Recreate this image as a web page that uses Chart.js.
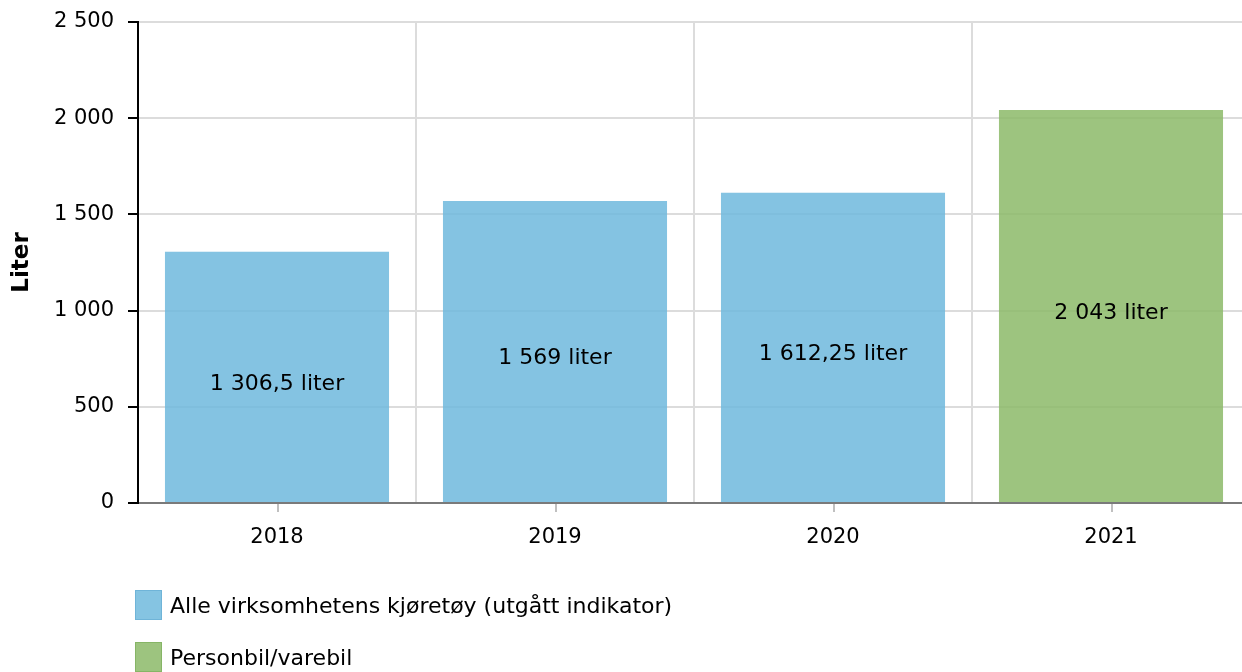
<!DOCTYPE html>
<html><head><meta charset="utf-8">
<script src="https://cdn.jsdelivr.net/npm/chart.js@4"></script>
<style>
html,body{margin:0;padding:0;background:#fff;overflow:hidden;width:1242px;height:672px;}
#wrap{position:absolute;left:0;top:0;width:1252px;height:672px;}
#legend{position:absolute;left:135px;top:590px;font-family:"DejaVu Sans";font-size:22px;color:#000}
.item{display:flex;align-items:center;height:30px;margin-bottom:22px;white-space:nowrap}
.box{width:25px;height:28px;border:1px solid;margin-right:8px;box-sizing:content-box}
</style></head><body>
<div id="wrap"><canvas id="c"></canvas></div>
<div id="legend"></div>
<script>
const categories = ['2018', '2019', '2020', '2021'];
const seriesNames = ['Alle virksomhetens kjøretøy (utgått indikator)', 'Personbil/varebil'];
const allVehicles = [1306.5, 1569, 1612.25, null];
const carsVans = [null, null, null, 2043];
const yTicks = [0, 500, 1000, 1500, 2000, 2500];
const unit = 'liter';
const yTitle = 'Liter';

function fmt(v) {
  const parts = String(v).split('.');
  const intPart = parts[0].replace(/\B(?=(\d{3})+(?!\d))/g, ' ');
  return parts.length > 1 ? intPart + ',' + parts[1] : intPart;
}

const FONT = 'DejaVu Sans';
Chart.defaults.font.family = FONT;
Chart.defaults.color = '#000';

const colors = [
  { fill: 'rgba(111,184,221,0.85)', legend: '#85c4e2', border: '#6fb4d8' },
  { fill: 'rgba(140,186,104,0.85)', legend: '#9dc47f', border: '#86b566' }
];

const centerTicks = {
  id: 'centerTicks',
  afterDraw(chart) {
    const ctx = chart.ctx, xs = chart.scales.x, b = chart.chartArea.bottom;
    ctx.save();
    ctx.strokeStyle = '#c0c0c0';
    ctx.lineWidth = 2;
    categories.forEach((c, i) => {
      const x = Math.round(xs.getPixelForValue(i)) + 1;
      ctx.beginPath();
      ctx.moveTo(x, b + 1);
      ctx.lineTo(x, b + 9);
      ctx.stroke();
    });
    ctx.restore();
  }
};

const barLabels = {
  id: 'barLabels',
  afterDatasetsDraw(chart) {
    const ctx = chart.ctx;
    ctx.save();
    ctx.font = '22px "' + FONT + '"';
    ctx.fillStyle = '#000';
    ctx.textAlign = 'center';
    ctx.textBaseline = 'middle';
    chart.data.datasets.forEach((ds, d) => {
      chart.getDatasetMeta(d).data.forEach((bar, i) => {
        const v = ds.data[i];
        if (v === null || v === undefined) return;
        ctx.fillText(fmt(v) + ' ' + unit, bar.x, (bar.y + bar.base) / 2 + 7);
      });
    });
    ctx.restore();
  }
};

const chart = new Chart(document.getElementById('c'), {
  type: 'bar',
  data: {
    labels: categories,
    datasets: [
      { label: seriesNames[0], data: allVehicles, backgroundColor: colors[0].fill, borderWidth: 0 },
      { label: seriesNames[1], data: carsVans, backgroundColor: colors[1].fill, borderWidth: 0 }
    ]
  },
  options: {
    responsive: true,
    maintainAspectRatio: false,
    devicePixelRatio: 1,
    animation: false,
    layout: { padding: { left: 0, right: 2, top: 22, bottom: 109 } },
    datasets: { bar: { barPercentage: 0.806, categoryPercentage: 1 } },
    plugins: { legend: { display: false }, tooltip: { enabled: false } },
    scales: {
      x: {
        stacked: true,
        grid: { offset: true, color: '#dcdcdc', lineWidth: 2, drawTicks: true, tickLength: 8, tickColor: 'rgba(0,0,0,0)' },
        border: { color: '#7a7a7a', width: 2 },
        ticks: { font: { size: 21 }, color: '#000', padding: 14, maxRotation: 0 },
        afterFit(s) { s.height = 60; }
      },
      y: {
        stacked: true,
        min: 0, max: 2500,
        afterBuildTicks(s) { s.ticks = yTicks.map(v => ({ value: v })); },
        grid: { color: '#dcdcdc', lineWidth: 2, tickLength: 10, tickColor: '#000' },
        border: { color: '#000', width: 2 },
        ticks: { font: { size: 21 }, color: '#000', padding: 14, callback: v => fmt(v) },
        title: { display: true, text: yTitle, font: { size: 23, weight: 'bold' }, color: '#000', padding: { top: 8, bottom: 0 } },
        afterFit(s) { s.width = 138; s.paddingTop = 0; s.paddingBottom = 0; }
      }
    }
  },
  plugins: [centerTicks, barLabels]
});

const legend = document.getElementById('legend');
chart.data.datasets.forEach((ds, i) => {
  const item = document.createElement('div');
  item.className = 'item';
  const box = document.createElement('span');
  box.className = 'box';
  box.style.background = colors[i].legend;
  box.style.borderColor = colors[i].border;
  const txt = document.createElement('span');
  txt.textContent = ds.label;
  item.appendChild(box);
  item.appendChild(txt);
  legend.appendChild(item);
});
</script>
</body></html>
